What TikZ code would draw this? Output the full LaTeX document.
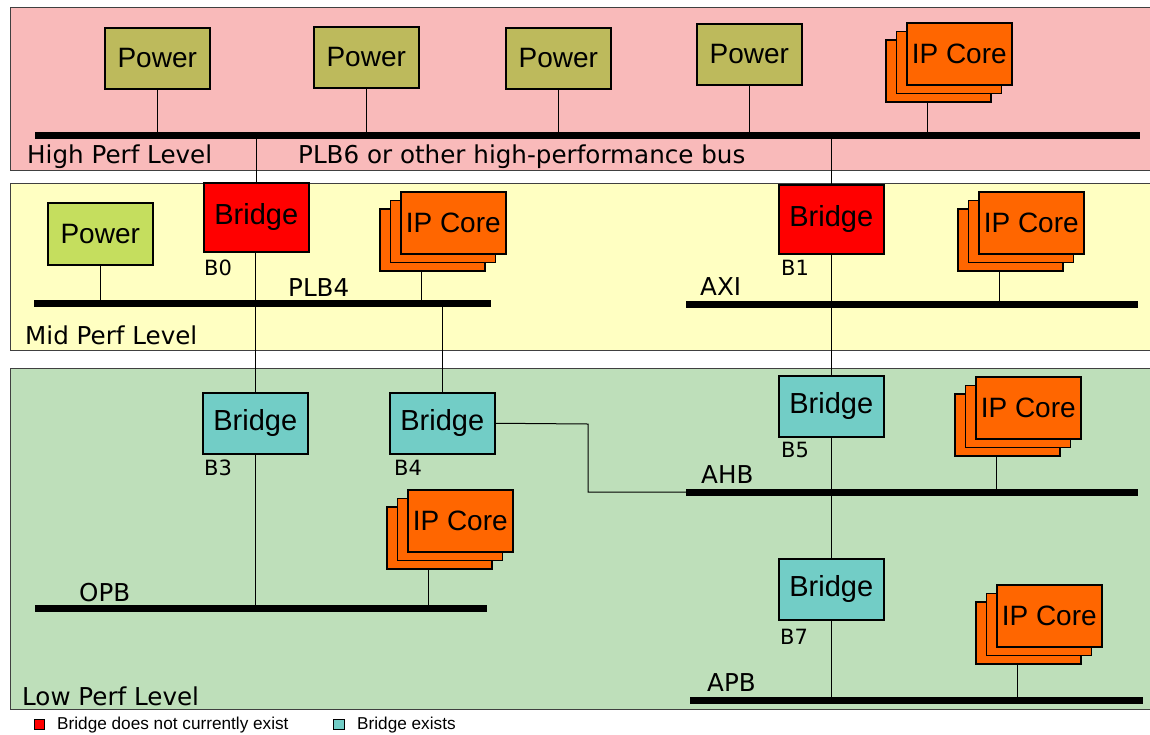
\documentclass[tikz,border=0pt]{standalone}
\usepackage{fontspec}
\setmainfont{Liberation Sans}
\newfontfamily\lblfont{DejaVu Sans}
\usetikzlibrary{calc}
\definecolor{pinkbg}{HTML}{F9BABA}
\definecolor{yellowbg}{HTML}{FFFFC2}
\definecolor{greenbg}{HTML}{BEDFBA}
\definecolor{olivebox}{HTML}{BDBA5C}
\definecolor{limebox}{HTML}{C5DE5E}
\definecolor{coreorange}{HTML}{FF6600}
\definecolor{bridgered}{HTML}{FF0000}
\definecolor{bridgecyan}{HTML}{72CDC6}
\tikzset{
  band/.style={draw=black!75, line width=1pt},
  box/.style={draw=black, line width=1.5pt, inner sep=0pt, anchor=north west,
    minimum width=105pt, minimum height=61pt, font=\fontsize{28}{30}\selectfont},
  powerbox/.style={box, fill=olivebox},
  limepower/.style={box, fill=limebox, minimum height=62pt},
  ipbox/.style={box, fill=coreorange, minimum height=62pt},
  redbridge/.style={box, fill=bridgered, minimum height=69pt, font=\fontsize{29}{31}\selectfont},
  cyanbridge/.style={box, fill=bridgecyan, minimum height=61pt, font=\fontsize{29}{31}\selectfont},
  bus/.style={line width=7pt},
  conn/.style={line width=1pt},
  lbl/.style={anchor=west, inner sep=0pt, font=\lblfont\fontsize{24.6}{26}\selectfont},
  smalllbl/.style={anchor=west, inner sep=0pt, font=\lblfont\fontsize{21}{23}\selectfont},
  legsq/.style={draw=black, line width=1pt, inner sep=0pt, minimum width=10pt, minimum height=10pt},
  legtxt/.style={anchor=west, inner sep=0pt, font=\fontsize{17.2}{19}\selectfont},
}
\newcommand\ipstack[3]{%
  \node[ipbox] (#1-b) at (#2-21,#3+17) {};
  \node[ipbox] (#1-m) at (#2-10.5,#3+8.5) {};
  \node[ipbox] (#1) at (#2,#3) {IP Core};
  \coordinate (#1-c) at ($(#1-b.south west)+(42,0)$);
}
\begin{document}
\begin{tikzpicture}[x=1pt,y=-1pt]
\useasboundingbox (0,0) rectangle (1150,734);
% bands
\filldraw[band, fill=pinkbg] (10,7) rectangle (1160,170);
\filldraw[band, fill=yellowbg] (10,183) rectangle (1160,350);
\filldraw[band, fill=greenbg] (10,368) rectangle (1160,709);

% bus coordinates
\coordinate (plb6w) at (35,135);  \coordinate (plb6e) at (1140,135);
\coordinate (plb4w) at (34,303);  \coordinate (plb4e) at (491,303);
\coordinate (axiw) at (686,304);  \coordinate (axie) at (1138,304);
\coordinate (ahbw) at (686,492);  \coordinate (ahbe) at (1138,492);
\coordinate (opbw) at (35,608);   \coordinate (opbe) at (487,608);
\coordinate (apbw) at (690,700);  \coordinate (apbe) at (1143,700);
\coordinate (b4bend1) at (588,424);

% ---------- High perf level ----------
\node[powerbox] (hp1) at (104,27) {Power};
\node[powerbox] (hp2) at (313,26) {Power};
\node[powerbox] (hp3) at (505,27) {Power};
\node[powerbox] (hp4) at (696,23) {Power};
\ipstack{ip1}{906}{22}
\foreach \n in {hp1,hp2,hp3,hp4} \draw[conn] (\n.south) -- (\n.south |- plb6w);
\draw[conn] (ip1-c) -- (ip1-c |- plb6w);
\draw[bus] (plb6w) -- (plb6e);
\node[lbl] (hpl) at (27,157) {High Perf Level};
\node[lbl] (plb6l) at (298,157) {PLB6 or other high-performance bus};

% ---------- Mid perf level ----------
\node[limepower] (mp) at (47,202) {Power};
\node[redbridge] (b0) at (203,182) {Bridge};
\node[redbridge] (b1) at (778,184) {Bridge};
\ipstack{ip2}{400}{191}
\ipstack{ip3}{978}{191}
\draw[conn] (b0.north) -- (b0.north |- plb6w);
\draw[conn] (b1.north) -- (b1.north |- plb6w);
\draw[conn] (mp.south) -- (mp.south |- plb4w);
\draw[conn] (ip2-c) -- (ip2-c |- plb4w);
\draw[conn] (ip3-c) -- (ip3-c |- axiw);
\node[smalllbl] (b0l) at (204,268) {B0};
\node[smalllbl] (b1l) at (781,268) {B1};
\node[lbl] (plb4l) at (288,288) {PLB4};
\node[lbl] (axil) at (700,287) {AXI};
\node[lbl] (mpl) at (25,335) {Mid Perf Level};

% ---------- Low perf level ----------
\node[cyanbridge] (b3) at (202,392) {Bridge};
\node[cyanbridge] (b4) at (389,392) {Bridge};
\node[cyanbridge] (b5) at (778,375) {Bridge};
\node[cyanbridge] (b7) at (778,558) {Bridge};
\ipstack{ip4}{975}{376}
\ipstack{ip5}{407}{489}
\ipstack{ip6}{996}{584}
\draw[conn] (b3.north) -- (b3.north |- b0.south);
\draw[conn] (b4.north) -- (b4.north |- plb4w);
\draw[conn] (b5.north) -- (b5.north |- b1.south);
\draw[conn] (b3.south) -- (b3.south |- opbw);
\draw[conn] (b5.south) -- (b7.north);
\draw[conn] (b7.south) -- (b7.south |- apbw);
\draw[conn] (ip4-c) -- (ip4-c |- ahbw);
\draw[conn] (ip5-c) -- (ip5-c |- opbw);
\draw[conn] (ip6-c) -- (ip6-c |- apbw);
\draw[conn] (b4.east) -- (b4bend1) -- (b4bend1 |- ahbw) -- (ahbw);
\node[smalllbl] (b3l) at (204,468) {B3};
\node[smalllbl] (b4l) at (394,468) {B4};
\node[smalllbl] (b5l) at (781,450) {B5};
\node[smalllbl] (b7l) at (780,637) {B7};
\node[lbl] (ahbl) at (701,475) {AHB};
\node[lbl] (opbl) at (79,593) {OPB};
\node[lbl] (apbl) at (707,683) {APB};
\node[lbl] (lpl) at (22,696) {Low Perf Level};

% buses on top
\draw[bus] (plb4w) -- (plb4e);
\draw[bus] (axiw) -- (axie);
\draw[bus] (ahbw) -- (ahbe);
\draw[bus] (opbw) -- (opbe);
\draw[bus] (apbw) -- (apbe);

% legend
\node[legsq, fill=bridgered] (legr) at (39,724) {};
\node[legtxt] (legrt) at (57,725) {Bridge does not currently exist};
\node[legsq, fill=bridgecyan, minimum width=11pt] (legc) at (339,724) {};
\node[legtxt] (legct) at (357,725) {Bridge exists};
\end{tikzpicture}
\end{document}
